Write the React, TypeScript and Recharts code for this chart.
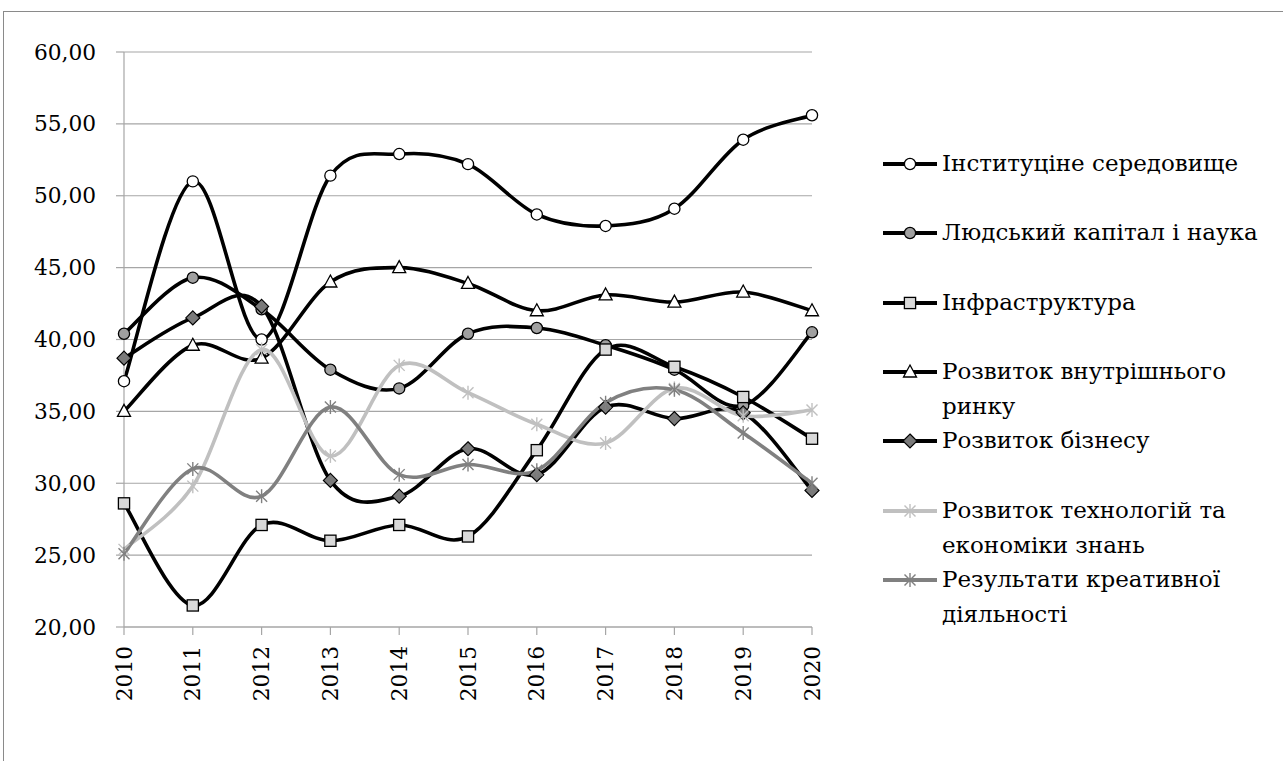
import React from "react";
import {
  LineChart,
  Line,
  XAxis,
  YAxis,
  CartesianGrid,
  Legend,
} from "recharts";

const years = [2010, 2011, 2012, 2013, 2014, 2015, 2016, 2017, 2018, 2019, 2020];
const yTicks = [20, 25, 30, 35, 40, 45, 50, 55, 60];

const institutions = [37.1, 51.0, 40.0, 51.4, 52.9, 52.2, 48.7, 47.9, 49.1, 53.9, 55.6];
const humanCapital = [40.4, 44.3, 42.1, 37.9, 36.6, 40.4, 40.8, 39.6, 37.9, 35.4, 40.5];
const infrastructure = [28.6, 21.5, 27.1, 26.0, 27.1, 26.3, 32.3, 39.3, 38.1, 36.0, 33.1];
const domesticMarket = [35.0, 39.6, 38.7, 44.0, 45.0, 43.9, 42.0, 43.1, 42.6, 43.3, 42.0];
const business = [38.7, 41.5, 42.3, 30.2, 29.1, 32.4, 30.6, 35.3, 34.5, 34.9, 29.5];
const technology = [25.4, 29.8, 39.3, 31.9, 38.2, 36.3, 34.1, 32.8, 36.6, 34.7, 35.1];
const creative = [25.1, 31.0, 29.1, 35.3, 30.6, 31.3, 30.9, 35.6, 36.5, 33.5, 30.0];

const seriesNames = [
  ["Інституціне середовище"],
  ["Людський капітал і наука"],
  ["Інфраструктура"],
  ["Розвиток внутрішнього", "ринку"],
  ["Розвиток бізнесу"],
  ["Розвиток технологій та", "економіки знань"],
  ["Результати креативної", "діяльності"],
];

const data = years.map((year, i) => ({
  year,
  s1: institutions[i],
  s2: humanCapital[i],
  s3: infrastructure[i],
  s4: domesticMarket[i],
  s5: business[i],
  s6: technology[i],
  s7: creative[i],
}));

type Kind = "circle" | "square" | "triangle" | "diamond" | "star";

const series: { key: string; line: string; kind: Kind; fill: string }[] = [
  { key: "s1", line: "#000000", kind: "circle", fill: "#ffffff" },
  { key: "s2", line: "#000000", kind: "circle", fill: "#a0a0a0" },
  { key: "s3", line: "#000000", kind: "square", fill: "#d9d9d9" },
  { key: "s4", line: "#000000", kind: "triangle", fill: "#ffffff" },
  { key: "s5", line: "#000000", kind: "diamond", fill: "#7a7a7a" },
  { key: "s6", line: "#c0c0c0", kind: "star", fill: "#c0c0c0" },
  { key: "s7", line: "#808080", kind: "star", fill: "#808080" },
];

// Liberation Serif turns into a sans face at large sizes in this browser,
// so DejaVu Serif is used, sized to match the reference text widths.
const FONT = "DejaVu Serif";
const AXIS_SIZE = 21.7;
const LEGEND_SIZE = 23;

// Excel-like smoothed line (uniform Catmull-Rom as bezier)
function excelSmooth(context: any) {
  let pts: number[][] = [];
  return {
    areaStart() {},
    areaEnd() {},
    lineStart() {
      pts = [];
    },
    point(x: number, y: number) {
      pts.push([+x, +y]);
    },
    lineEnd() {
      if (!pts.length) return;
      context.moveTo(pts[0][0], pts[0][1]);
      for (let i = 0; i < pts.length - 1; i++) {
        const p0 = pts[Math.max(i - 1, 0)];
        const p1 = pts[i];
        const p2 = pts[i + 1];
        const p3 = pts[Math.min(i + 2, pts.length - 1)];
        context.bezierCurveTo(
          p1[0] + (p2[0] - p0[0]) / 6,
          p1[1] + (p2[1] - p0[1]) / 6,
          p2[0] - (p3[0] - p1[0]) / 6,
          p2[1] - (p3[1] - p1[1]) / 6,
          p2[0],
          p2[1]
        );
      }
    },
  };
}

function Marker({ kind, x, y, fill }: { kind: Kind; x: number; y: number; fill: string }) {
  switch (kind) {
    case "circle":
      return <circle cx={x} cy={y} r={5.6} fill={fill} stroke="#000" strokeWidth={1.3} />;
    case "square":
      return (
        <rect x={x - 5.6} y={y - 5.6} width={11.2} height={11.2} fill={fill} stroke="#000" strokeWidth={1.3} />
      );
    case "triangle":
      return (
        <path
          d={`M${x},${y - 7} L${x + 6.5},${y + 5} L${x - 6.5},${y + 5} Z`}
          fill={fill}
          stroke="#000"
          strokeWidth={1.3}
        />
      );
    case "diamond":
      return (
        <path
          d={`M${x},${y - 7} L${x + 7},${y} L${x},${y + 7} L${x - 7},${y} Z`}
          fill={fill}
          stroke="#000"
          strokeWidth={1.2}
        />
      );
    default:
      return (
        <g stroke={fill} strokeWidth={1.4}>
          <line x1={x - 5.5} y1={y - 5.5} x2={x + 5.5} y2={y + 5.5} />
          <line x1={x - 5.5} y1={y + 5.5} x2={x + 5.5} y2={y - 5.5} />
          <line x1={x} y1={y - 7} x2={x} y2={y + 7} />
        </g>
      );
  }
}

const makeDot = (kind: Kind, fill: string) => (props: any) => {
  const { cx, cy, index } = props;
  if (cx == null || cy == null) return <g key={`d-${index}`} />;
  return (
    <g key={`d-${index}`}>
      <Marker kind={kind} x={cx} y={cy} fill={fill} />
    </g>
  );
};

const YearTick = (props: any) => {
  const { x, y, payload } = props;
  return (
    <text
      x={x}
      y={y}
      transform={`rotate(-90, ${x}, ${y})`}
      textAnchor="end"
      dominantBaseline="central"
      fontFamily={FONT}
      fontSize={AXIS_SIZE}
      fill="#000"
    >
      {payload.value}
    </text>
  );
};

const ValueTick = (props: any) => {
  const { x, y, payload } = props;
  return (
    <text
      x={x}
      y={y}
      textAnchor="end"
      dominantBaseline="central"
      fontFamily={FONT}
      fontSize={AXIS_SIZE}
      fill="#000"
    >
      {Number(payload.value).toFixed(2).replace(".", ",")}
    </text>
  );
};

const legendCenters = [164, 233.3, 302.7, 372, 441.3, 510.7, 580];

const renderLegend = () => (
  <div style={{ position: "relative", width: 400, height: 620, fontFamily: FONT }}>
    {series.map((s, i) => (
      <div
        key={s.key}
        style={{ position: "absolute", left: 0, top: legendCenters[i] - 18 }}
      >
        <svg width={60} height={36} style={{ position: "absolute", left: 0, top: 0 }}>
          <line x1={3} y1={18} x2={57} y2={18} stroke={s.line} strokeWidth={4} />
          <Marker kind={s.kind} x={30} y={18} fill={s.fill} />
        </svg>
        <div
          style={{
            position: "absolute",
            left: 62,
            top: 0,
            fontFamily: FONT,
            fontSize: LEGEND_SIZE,
            lineHeight: "35px",
            color: "#000",
            whiteSpace: "nowrap",
          }}
        >
          {seriesNames[i].map((t, j) => (
            <div key={j}>{t}</div>
          ))}
        </div>
      </div>
    ))}
  </div>
);

export default function App() {
  return (
    <div
      style={{
        position: "absolute",
        left: 0,
        top: 0,
        width: 1283,
        height: 761,
        background: "#fff",
        overflow: "hidden",
        fontFamily: FONT,
      }}
    >
      <div
        style={{
          position: "absolute",
          left: 3,
          top: 11,
          width: 1400,
          height: 900,
          border: "1px solid #8a8a8a",
        }}
      />
      <div style={{ position: "absolute", left: 0, top: 0 }}>
        <LineChart
          width={1283}
          height={761}
          data={data}
          margin={{ top: 52, right: 471, bottom: 54, left: 0 }}
        >
          <CartesianGrid vertical={false} stroke="#a6a6a6" strokeWidth={1.2} />
          <XAxis
            dataKey="year"
            type="number"
            domain={[2010, 2020]}
            ticks={years}
            interval={0}
            height={80}
            tickSize={8}
            tickMargin={11}
            axisLine={{ stroke: "#a6a6a6", strokeWidth: 1.2 }}
            tickLine={{ stroke: "#a6a6a6", strokeWidth: 1.2 }}
            tick={<YearTick />}
          />
          <YAxis
            type="number"
            domain={[20, 60]}
            ticks={yTicks}
            interval={0}
            width={124}
            tickSize={8}
            tickMargin={20}
            axisLine={{ stroke: "#a6a6a6", strokeWidth: 1.2 }}
            tickLine={{ stroke: "#a6a6a6", strokeWidth: 1.2 }}
            tick={<ValueTick />}
          />
          <Legend
            layout="vertical"
            align="center"
            verticalAlign="middle"
            content={renderLegend}
            wrapperStyle={{ left: 880, top: 0, width: 400, height: 620 }}
          />
          {series.map((s, i) => (
            <Line
              key={s.key}
              dataKey={s.key}
              name={seriesNames[i].join(" ")}
              type={excelSmooth as any}
              stroke={s.line}
              strokeWidth={3.6}
              dot={makeDot(s.kind, s.fill)}
              activeDot={false}
              isAnimationActive={false}
            />
          ))}
        </LineChart>
      </div>
    </div>
  );
}
